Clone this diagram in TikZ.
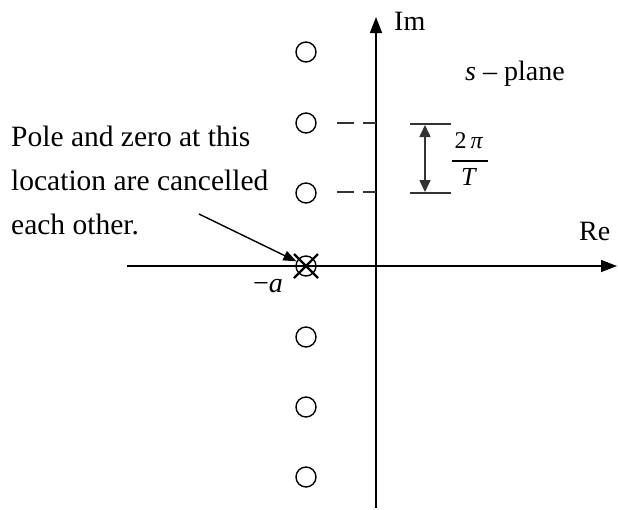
\documentclass[tikz,border=0pt]{standalone}
\usepackage{fontspec}
\setmainfont{Liberation Serif}
\usetikzlibrary{arrows.meta}
\begin{document}
\begin{tikzpicture}[x=1pt,y=-1pt,
  txt/.style={font=\fontsize{29.5}{34}\selectfont, inner sep=0pt},
  lbl/.style={font=\fontsize{28}{32}\selectfont, inner sep=0pt},
  pz/.style={circle, draw, line width=1.4pt, minimum size=20pt, inner sep=0pt},
  axis/.style={line width=1.4pt, -{Triangle[length=16pt,width=12pt]}},
  ext/.style={line width=1.6pt, black!80, dash pattern=on 17pt off 9pt},
  dim/.style={line width=1.6pt, black!80}]
\useasboundingbox (0,0) rectangle (618,509);
\coordinate (xl) at (127,266);
\coordinate (xr) at (617,266);
\coordinate (yb) at (376,508);
\coordinate (yt) at (376,17);
\draw[axis] (xl) -- (xr);
\draw[axis] (yb) -- (yt);
\node[pz] (p1) at (306,52) {};
\node[pz] (p2) at (306,123) {};
\node[pz] (p3) at (306,193) {};
\node[pz] (p0) at (306,266) {};
\node[pz] (p4) at (306,337) {};
\node[pz] (p5) at (306,407) {};
\node[pz] (p6) at (306,477) {};
\draw[line width=2.2pt] ([shift={(-12,-12)}]p0.center) -- ([shift={(12,12)}]p0.center)
  ([shift={(-12,12)}]p0.center) -- ([shift={(12,-12)}]p0.center);
\coordinate (d1s) at (337,123); \coordinate (d1e) at (376,123);
\coordinate (d2s) at (337,192); \coordinate (d2e) at (376,192);
\draw[ext] (d1s) -- (d1e);
\draw[ext] (d2s) -- (d2e);
\coordinate (h1a) at (410,124); \coordinate (h1b) at (451,124);
\coordinate (h2a) at (410,193); \coordinate (h2b) at (451,193);
\draw[dim] (h1a) -- (h1b);
\draw[dim] (h2a) -- (h2b);
\coordinate (va) at (425,125); \coordinate (vb) at (425,192);
\draw[dim, {Triangle[length=12pt,width=11pt]}-{Triangle[length=12pt,width=11pt]}] (va) -- (vb);
\node[font=\fontsize{24}{28}\selectfont, inner sep=0pt] (num) at (469,141) {2\,\textit{π}};
\node[font=\fontsize{26}{30}\selectfont, inner sep=0pt] (den) at (469,177) {\textit{T}};
\coordinate (fa) at (452,161); \coordinate (fb) at (488,161);
\draw[line width=1.4pt] (fa) -- (fb);
\node[lbl, anchor=base west] (im) at (394,30) {Im};
\node[lbl, anchor=base west] (sp) at (465,80) {\textit{s} – plane};
\node[lbl, anchor=base west] (re) at (579,240) {Re};
\node[lbl, anchor=base east] (ma) at (283,292) {−\textit{a}};
\node[txt, anchor=base west] (t1) at (11,146) {Pole and zero at this};
\node[txt, anchor=base west] (t2) at (11,190) {location are cancelled};
\node[txt, anchor=base west] (t3) at (11,234) {each other.};
\coordinate (as) at (199,214);
\draw[line width=1.4pt, -{Triangle[length=13pt,width=10pt]}] (as) -- (p0);
\end{tikzpicture}
\end{document}
